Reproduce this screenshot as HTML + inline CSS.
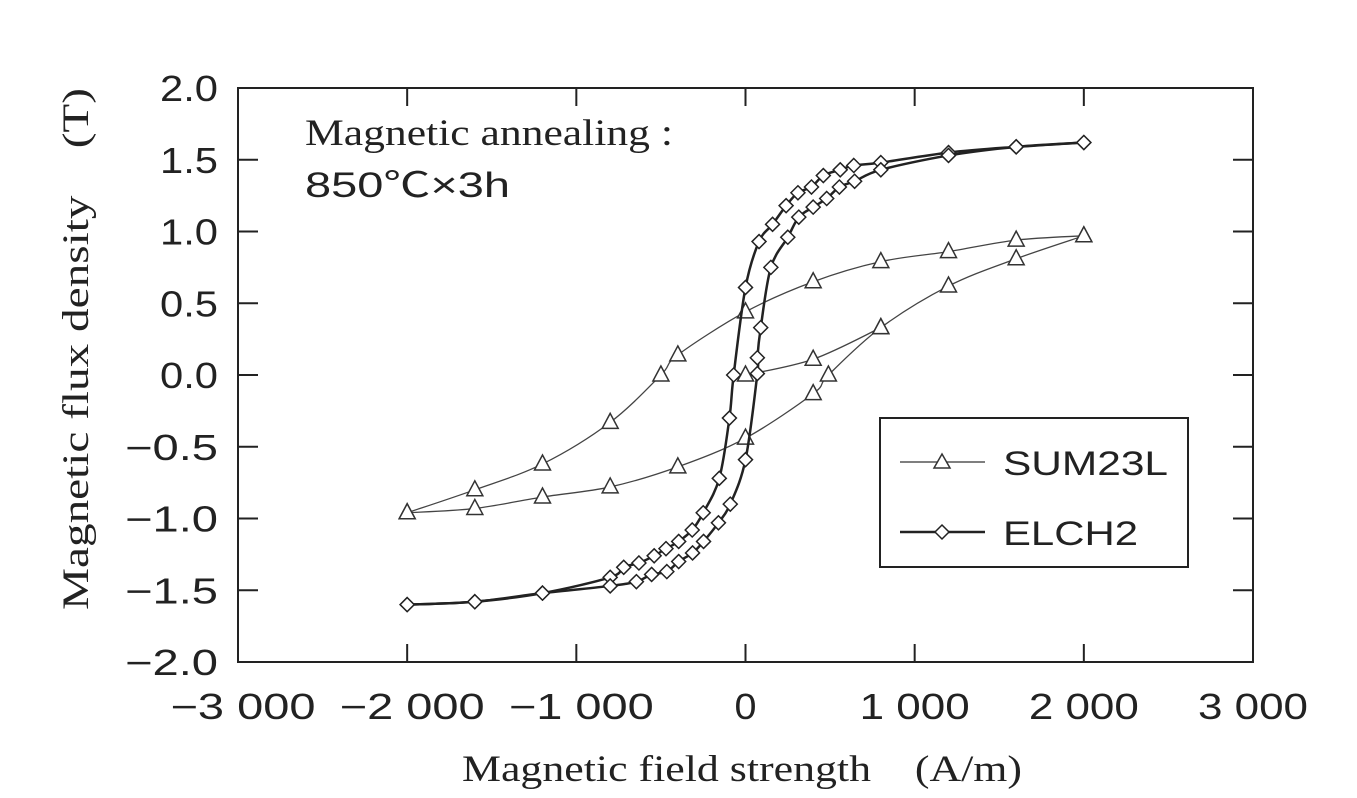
<!DOCTYPE html>
<html><head><meta charset="utf-8"><style>
html,body{margin:0;padding:0;background:#fff;}
svg{display:block;}
</style></head><body>
<svg id="chart" width="1357" height="798" xmlns="http://www.w3.org/2000/svg">
<g id="axes"></g><g id="series"></g>
<text x="305" y="145" font-family="Liberation Serif, serif" font-size="37" fill="#222" textLength="368" lengthAdjust="spacingAndGlyphs">Magnetic annealing :</text>
<text x="305" y="197" font-family="Liberation Sans, Noto Sans CJK JP, sans-serif" font-size="35" fill="#222" textLength="205" lengthAdjust="spacingAndGlyphs">850℃×3h</text>
<text x="462" y="781" font-family="Liberation Serif, serif" font-size="37" fill="#222" textLength="560" lengthAdjust="spacingAndGlyphs">Magnetic field strength　(A/m)</text>
<text transform="translate(88,610) rotate(-90)" font-family="Liberation Serif, serif" font-size="37" fill="#222" textLength="522" lengthAdjust="spacingAndGlyphs">Magnetic flux density　(T)</text>
<g>
<rect x="880" y="418" width="308" height="149" fill="#fff" stroke="#222" stroke-width="2"/>
<g>
<line x1="900" y1="462" x2="985" y2="462" stroke="#555" stroke-width="1.5"/>
<polygon points="942,454 950,468 934,468" fill="#fff" stroke="#333" stroke-width="1.5"/>
<text x="1003" y="475" font-family="Liberation Sans, sans-serif" font-size="34" fill="#222" textLength="165" lengthAdjust="spacingAndGlyphs">SUM23L</text></g>
<g>
<line x1="900" y1="532" x2="985" y2="532" stroke="#222" stroke-width="2.5"/>
<polygon points="942,525 949,532 942,539 935,532" fill="#fff" stroke="#222" stroke-width="1.5"/>
<text x="1003" y="545" font-family="Liberation Sans, sans-serif" font-size="34" fill="#222" textLength="135" lengthAdjust="spacingAndGlyphs">ELCH2</text></g>
</g>
</svg>
<script>
const xTicks=[-3000,-2000,-1000,0,1000,2000,3000];
const xTickLabels=["−3 000","−2 000","−1 000","0","1 000","2 000","3 000"];
const yTicks=[-2,-1.5,-1,-0.5,0,0.5,1,1.5,2];
const yTickLabels=["−2.0","−1.5","−1.0","−0.5","0.0","0.5","1.0","1.5","2.0"];
const elchDescH=[2000,1600,1200,800,640,560,460,390,310,240,160,80,0,-70,-95,-155,-250,-315,-395,-470,-540,-630,-720,-800,-1200,-1600,-2000];
const elchDescB=[1.62,1.59,1.55,1.48,1.46,1.43,1.39,1.31,1.27,1.18,1.05,0.93,0.61,0.0,-0.3,-0.72,-0.96,-1.08,-1.16,-1.21,-1.26,-1.31,-1.34,-1.41,-1.52,-1.58,-1.60];
const elchAscH=[-2000,-1600,-1200,-800,-645,-555,-465,-395,-313,-248,-160,-90,0,70,70,90,150,250,315,400,480,555,645,800,1200,1600,2000];
const elchAscB=[-1.60,-1.58,-1.52,-1.47,-1.44,-1.39,-1.37,-1.30,-1.24,-1.16,-1.03,-0.90,-0.59,0.01,0.12,0.33,0.75,0.96,1.10,1.17,1.23,1.31,1.35,1.43,1.53,1.59,1.62];
const sumDescH=[2000,1600,1200,800,400,0,-400,-500,-800,-1200,-1600,-2000];
const sumDescB=[0.97,0.94,0.86,0.79,0.65,0.44,0.14,0.0,-0.33,-0.62,-0.80,-0.96];
const sumAscH=[-2000,-1600,-1200,-800,-400,0,400,490,800,1200,1600,2000];
const sumAscB=[-0.96,-0.93,-0.85,-0.78,-0.64,-0.44,-0.13,0.0,0.33,0.62,0.81,0.97];
const sumInitH=[0,400,800];
const sumInitB=[0.0,0.11,0.33];

const L=238,R=1253,T=88,B=662;
const xs=v=>L+(v+3000)/6000*(R-L);
const ys=v=>B-(v+2)/4*(B-T);
const NS="http://www.w3.org/2000/svg";
const axes=document.getElementById('axes'),series=document.getElementById('series');
function mk(tag,attrs,parent){const e=document.createElementNS(NS,tag);for(const k in attrs)e.setAttribute(k,attrs[k]);parent.appendChild(e);return e;}
const frame=mk('rect',{x:L,y:T,width:R-L,height:B-T,fill:'none',stroke:'#222','stroke-width':2},axes);


xTicks.forEach((v,i)=>{
 const x=xs(v);
 mk('line',{x1:x,y1:B,x2:x,y2:B-18,stroke:'#222','stroke-width':2},axes);
 mk('line',{x1:x,y1:T,x2:x,y2:T+18,stroke:'#222','stroke-width':2},axes);
 const lab=xTickLabels[i];
 const w=lab.length===1?22:(lab.charAt(0)==='−'?145:110);
 const t=mk('text',{x:x-w/2+(lab.charAt(0)==='−'?5:0),y:719,'font-family':'Liberation Sans, sans-serif','font-size':36,fill:'#222',textLength:w,lengthAdjust:'spacingAndGlyphs'},axes);
 t.textContent=lab;
 
 
});
yTicks.forEach((v,i)=>{
 const y=ys(v);
 mk('line',{x1:L,y1:y,x2:L+20,y2:y,stroke:'#222','stroke-width':2},axes);
 mk('line',{x1:R,y1:y,x2:R-20,y2:y,stroke:'#222','stroke-width':2},axes);
 const lab=yTickLabels[i];
 const w=lab.length===3?58:93;
 const t=mk('text',{x:218-w,y:y+13,'font-family':'Liberation Sans, sans-serif','font-size':36,fill:'#222',textLength:w,lengthAdjust:'spacingAndGlyphs'},axes);
 t.textContent=lab;
 
 
});
function smooth(pts){
 let d='M'+pts[0][0]+','+pts[0][1];
 for(let i=0;i<pts.length-1;i++){
  const p0=pts[Math.max(0,i-1)],p1=pts[i],p2=pts[i+1],p3=pts[Math.min(pts.length-1,i+2)];
  const c1=[p1[0]+(p2[0]-p0[0])/6,p1[1]+(p2[1]-p0[1])/6],c2=[p2[0]-(p3[0]-p1[0])/6,p2[1]-(p3[1]-p1[1])/6];
  d+=' C'+c1[0]+','+c1[1]+' '+c2[0]+','+c2[1]+' '+p2[0]+','+p2[1];
 }
 return d;
}
function drawSeries(H,Bv,name,marker,sw,col){
 const pts=H.map((h,i)=>[xs(h),ys(Bv[i])]);
 const p=mk('path',{d:smooth(pts),fill:'none',stroke:col,'stroke-width':sw},series);
 
 
 pts.forEach(([x,y])=>{
  let m;
  if(marker==='tri') m=mk('polygon',{points:`${x},${y-9} ${x+8},${y+6} ${x-8},${y+6}`,fill:'#fff',stroke:'#333','stroke-width':1.5},series);
  else m=mk('polygon',{points:`${x},${y-7} ${x+7},${y} ${x},${y+7} ${x-7},${y}`,fill:'#fff',stroke:'#222','stroke-width':1.5},series);
  
  
 });
}
drawSeries(sumDescH,sumDescB,'sum23l-descending','tri',1.3,'#444');
drawSeries(sumAscH,sumAscB,'sum23l-ascending','tri',1.3,'#444');
drawSeries(sumInitH,sumInitB,'sum23l-initial','tri',1.3,'#444');
drawSeries(elchDescH,elchDescB,'elch2-descending','dia',2.5,'#222');
drawSeries(elchAscH,elchAscB,'elch2-ascending','dia',2.5,'#222');
</script>
</body></html>
